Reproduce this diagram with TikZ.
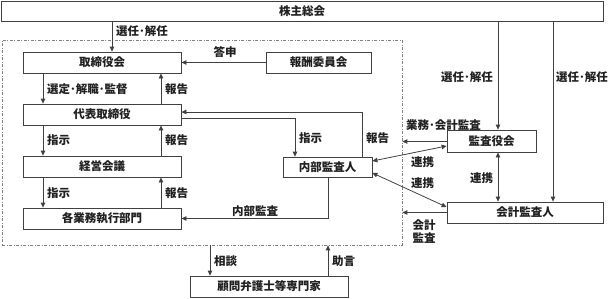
\documentclass[tikz,border=0pt]{standalone}
\usepackage{fontspec}
\setmainfont{Noto Sans CJK JP}
\usetikzlibrary{arrows.meta}
\definecolor{ln}{HTML}{404040}
\definecolor{tx}{HTML}{202020}
\tikzset{
  box/.style={draw=ln, line width=0.8pt, fill=white, inner sep=0pt, text=tx, font=\fontsize{11.5}{13}\selectfont\bfseries},
  grpbox/.style={draw=gray, line width=0.7pt, dash pattern=on 3pt off 1.5pt on 1pt off 1.5pt, inner sep=0pt},
  arr/.style={draw=ln, line width=0.8pt, -{Triangle[length=5pt,width=4.5pt]}},
  darr/.style={draw=ln, line width=0.8pt, {Triangle[length=5pt,width=4.5pt]}-{Triangle[length=5pt,width=4.5pt]}},
  lbl/.style={inner sep=0pt, text=tx, font=\fontsize{11.5}{13}\selectfont\bfseries},
}
\begin{document}
\begin{tikzpicture}[x=1pt,y=-1pt]
\useasboundingbox (0,0) rectangle (611,298);
% group
\node[grpbox, minimum width=400pt, minimum height=205pt] (grp) at (202,142.5) {};
% boxes
\node[box, minimum width=602pt, minimum height=20pt] (soukai) at (302,11) {株主総会};
\node[box, minimum width=158pt, minimum height=21pt] (tk) at (102,62.5) {取締役会};
\node[box, minimum width=105pt, minimum height=21pt] (hs) at (318.5,62.5) {報酬委員会};
\node[box, minimum width=158pt, minimum height=21pt] (dh) at (102,114.5) {代表取締役};
\node[box, minimum width=158pt, minimum height=21pt] (kk) at (102,166.5) {経営会議};
\node[box, minimum width=158pt, minimum height=21pt] (kg) at (102,218.5) {各業務執行部門};
\node[box, minimum width=89pt, minimum height=20pt] (nb) at (327.5,167) {内部監査人};
\node[box, minimum width=158pt, minimum height=21pt] (km) at (269,286.5) {顧問弁護士等専門家};
\node[box, minimum width=89pt, minimum height=22pt] (ks) at (491.5,141) {監査役会};
\node[box, minimum width=156pt, minimum height=21pt] (kai) at (525,212.5) {会計監査人};
% column coordinates
\coordinate (cA) at (43,0);
\coordinate (cB) at (161,0);
\coordinate (cC) at (112,0);
\coordinate (cD) at (295,0);
\coordinate (cE) at (362,0);
\coordinate (cF) at (328,0);
\coordinate (cG) at (498,0);
\coordinate (cH) at (553,0);
\coordinate (cI) at (210,0);
% arrows
\draw[arr] (soukai.south -| cC) -- (tk.north -| cC);
\draw[arr] (soukai.south -| cG) -- (ks.north -| cG);
\draw[arr] (soukai.south -| cH) -- (kai.north -| cH);
\draw[arr] (hs.west) -- (tk.east);
\draw[arr] (tk.south -| cA) -- (dh.north -| cA);
\draw[arr] (dh.north -| cB) -- (tk.south -| cB);
\draw[arr] (dh.south -| cA) -- (kk.north -| cA);
\draw[arr] (kk.north -| cB) -- (dh.south -| cB);
\draw[arr] (kk.south -| cA) -- (kg.north -| cA);
\draw[arr] (kg.north -| cB) -- (kk.south -| cB);
\draw[arr] ([yshift=-3.5pt]dh.east) -| (nb.north -| cD);
\draw[arr] (nb.north -| cE) |- ([yshift=2.5pt]dh.east);
\draw[arr] (nb.south -| cF) |- (kg.east);
\draw[darr] ([yshift=6pt]nb.east) -- ([yshift=-5pt]ks.west);
\draw[darr] ([yshift=-6pt]nb.east) -- ([yshift=5.5pt]kai.west);
\draw[darr] (ks.south -| cG) -- (kai.north -| cG);
\draw[arr] ([yshift=-0.5pt]ks.west) -- ([yshift=-0.5pt]ks.west -| grp.east);
\draw[arr] (kai.west) -- (kai.west -| grp.east);
\draw[arr] (grp.south -| cI) -- (km.north -| cI);
\draw[arr] (km.north -| cF) -- (grp.south -| cF);
% labels
\node[lbl, anchor=west] (l1) at (116,31) {選任･解任};
\node[lbl] (l2) at (225,52) {答申};
\node[lbl, anchor=west] (l3) at (47,89.5) {選定･解職･監督};
\node[lbl, anchor=west] (l4) at (165,89.5) {報告};
\node[lbl, anchor=west] (l5) at (47,140.5) {指示};
\node[lbl, anchor=west] (l6) at (165,140.5) {報告};
\node[lbl, anchor=west] (l7) at (299,138.5) {指示};
\node[lbl, anchor=west] (l8) at (366,138.5) {報告};
\node[lbl, anchor=west] (l9) at (47,193) {指示};
\node[lbl, anchor=west] (l10) at (165,193) {報告};
\node[lbl] (l11) at (255,211.5) {内部監査};
\node[lbl, anchor=west] (l12) at (214,261.5) {相談};
\node[lbl, anchor=west] (l13) at (332,261.5) {助言};
\node[lbl, anchor=east] (l14) at (493,77) {選任･解任};
\node[lbl, anchor=west] (l15) at (556,77) {選任･解任};
\node[lbl, anchor=west] (l16) at (406,125.5) {業務･会計監査};
\node[lbl] (l17) at (422.5,162) {連携};
\node[lbl] (l18) at (422.5,183.5) {連携};
\node[lbl] (l19) at (481.5,178) {連携};
\node[lbl, align=center, font=\fontsize{11.5}{13.5}\selectfont\bfseries] (l20) at (424,231.5) {会計\\監査};
\end{tikzpicture}
\end{document}
